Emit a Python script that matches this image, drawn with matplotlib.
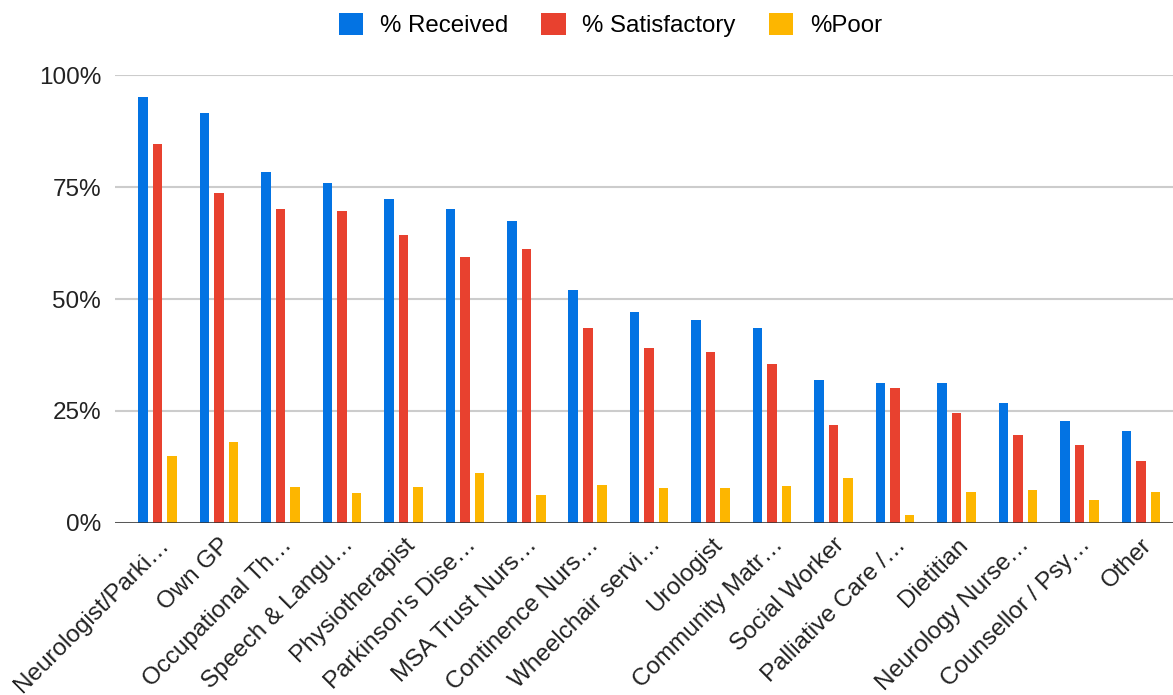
import matplotlib
matplotlib.use('Agg')
import matplotlib.pyplot as plt
import numpy as np
from matplotlib.patches import Patch

plt.rcParams['font.family'] = ['Liberation Sans', 'DejaVu Sans']

# Dữ liệu
categories = ['Neurologist/Parki…', 'Own GP', 'Occupational Th…', 'Speech & Langu…',
              'Physiotherapist', "Parkinson's Dise…", 'MSA Trust Nurs…', 'Continence Nurs…',
              'Wheelchair servi…', 'Urologist', 'Community Matr…', 'Social Worker',
              'Palliative Care /…', 'Dietitian', 'Neurology Nurse…', 'Counsellor / Psy…', 'Other']
received = [95.1, 91.5, 78.4, 76.0, 72.4, 70.1, 67.5, 52.0, 47.2, 45.4, 43.6, 31.8,
            31.3, 31.3, 26.8, 22.7, 20.5]
satisfactory = [84.6, 73.8, 70.1, 69.7, 64.2, 59.3, 61.1, 43.6, 39.1, 38.1, 35.4, 21.9,
                30.0, 24.6, 19.6, 17.3, 13.7]
poor = [14.9, 18.0, 8.0, 6.7, 8.0, 11.1, 6.2, 8.5, 7.7, 7.7, 8.1, 10.0,
        1.8, 6.8, 7.2, 5.0, 6.8]

series_names = ['% Received', '% Satisfactory', '%Poor']
colors = ['#0373E3', '#E8412F', '#FDB600']

fig = plt.figure(figsize=(11.73, 6.95), dpi=100)
ax = fig.add_axes([115 / 1173, 1 - 522.7 / 695, 1 - 115 / 1173, (522.7 - 75.3) / 695])

x = np.arange(len(categories))
offset = 0.236
width = 0.155
for i, (vals, col) in enumerate(zip([received, satisfactory, poor], colors)):
    ax.bar(x + (i - 1) * offset, np.array(vals) / 100, width=width, color=col, zorder=3)

ax.set_xlim(-0.69, len(categories) - 0.48)
ax.set_ylim(0, 1)
ax.set_yticks([0, 0.25, 0.5, 0.75, 1.0])
ax.set_yticklabels(['0%', '25%', '50%', '75%', '100%'], fontsize=17.5, color='#222222')
ax.grid(axis='y', color='#CCCCCC', linewidth=1.5, zorder=0)
ax.axhline(0, color='#333333', linewidth=1.8, zorder=4)
ax.tick_params(axis='y', length=0, pad=10)
ax.tick_params(axis='x', length=0, pad=8)
for s in ax.spines.values():
    s.set_visible(False)

ax.set_xticks(x)
ax.set_xticklabels(categories, rotation=45, ha='right', va='top',
                   rotation_mode='anchor', fontsize=17.5, color='#222222')

handles = [Patch(facecolor=c, label=n) for c, n in zip(colors, series_names)]
fig.legend(handles=handles, loc='center', bbox_to_anchor=(0.5205, 0.964), ncol=3,
           frameon=False, fontsize=17.3, handlelength=1.0, handleheight=1.0,
           handletextpad=0.7, columnspacing=1.4)

fig.savefig('out.png', dpi=100)
